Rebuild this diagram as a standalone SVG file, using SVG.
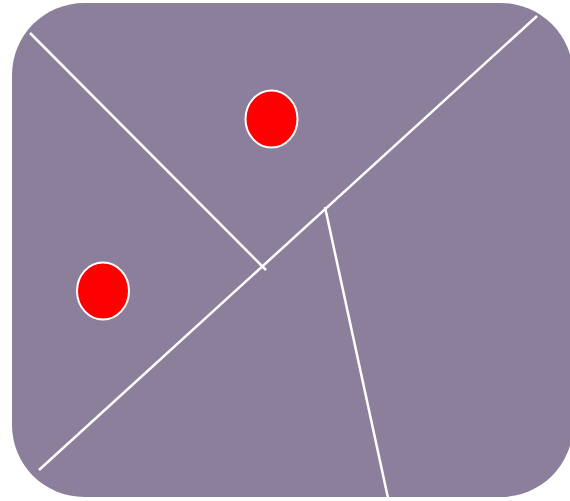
<svg xmlns="http://www.w3.org/2000/svg" width="570" height="501" viewBox="0 0 570 501">
<style>
.bg{fill:#8c7f9b}
.ln{stroke:#ffffff;stroke-width:2.5;fill:none}
.pt{fill:#ff0000;stroke:#ffffff;stroke-width:2}
</style>
<rect width="570" height="501" fill="#ffffff"/>
<g id="region">
<rect class="bg" x="12" y="3" width="561" height="494" rx="72" ry="72"/>
</g>
<g id="connectors">
<line class="ln" x1="30" y1="33" x2="266" y2="270"/>
<line class="ln" x1="537" y1="16" x2="39" y2="470"/>
<line class="ln" x1="325" y1="207" x2="388" y2="498"/>
</g>
<g id="point1">
<ellipse class="pt" cx="103" cy="291" rx="26" ry="28.5"/>
</g>
<g id="point2">
<ellipse class="pt" cx="271.5" cy="119" rx="26" ry="28.5"/>
</g>
</svg>
